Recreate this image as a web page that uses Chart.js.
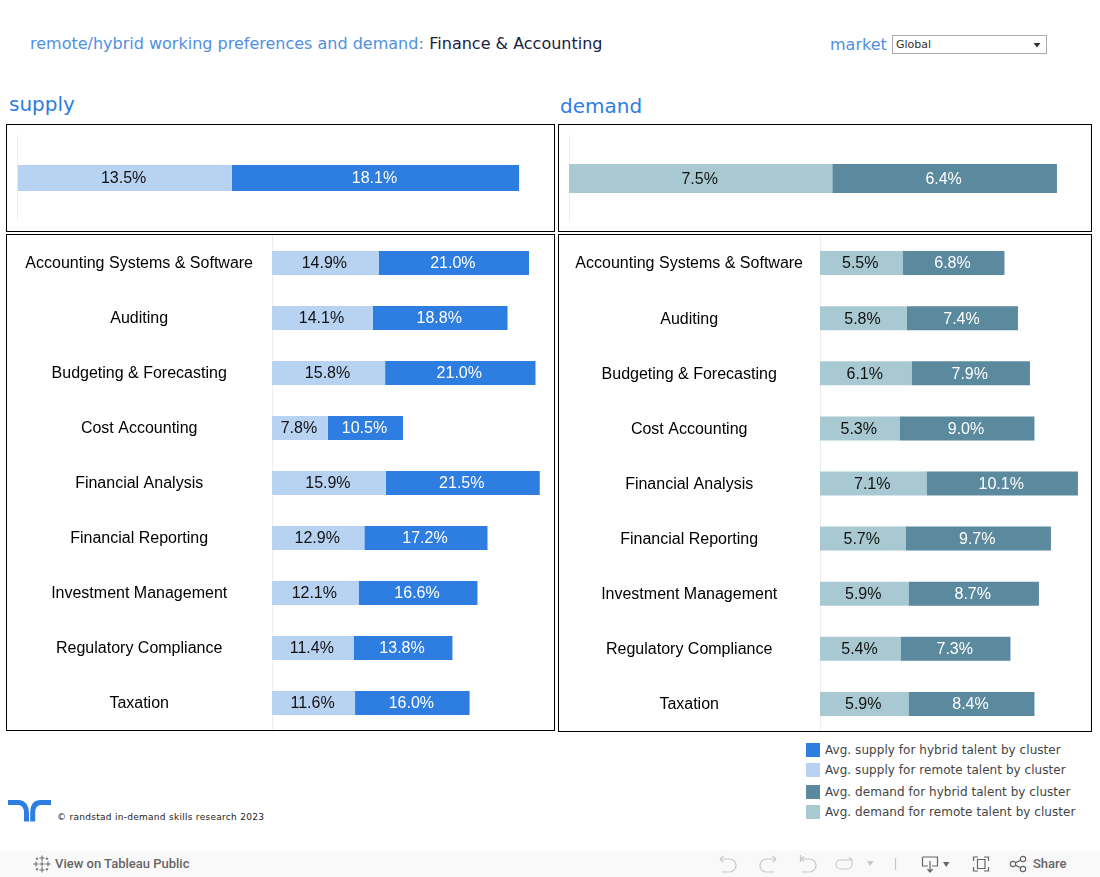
<!DOCTYPE html>
<html><head><meta charset="utf-8">
<script src="https://cdn.jsdelivr.net/npm/chart.js@4"></script>
<style>
html,body{margin:0;padding:0;background:#fff;width:1100px;height:877px;overflow:hidden;font-family:"DejaVu Sans",sans-serif}
.a{position:absolute;white-space:nowrap}
canvas{position:absolute}
.frame{position:absolute;border:1px solid #000;box-sizing:border-box}
.sw{position:absolute;width:14px;height:14px}
.lg{position:absolute;left:825px;font-size:12px;line-height:14px;letter-spacing:.05px;color:#444;white-space:nowrap}
</style></head><body>
<div class="a" style="left:30px;top:34px;font-size:16px;line-height:19px;color:#5090e0">remote/hybrid working preferences and demand:<span style="color:#1b2240;margin-left:5.500px">Finance &amp; Accounting</span></div>
<div class="a" style="left:830px;top:35px;font-size:16px;line-height:19px;color:#5090e0">market</div>
<div class="a" style="left:892px;top:35px;width:155px;height:19px;box-sizing:border-box;border:1px solid #aaa;font-size:11px;line-height:17px;padding-left:3px;color:#333">Global
<svg style="position:absolute;left:140px;top:7px" width="9" height="6"><path d="M0.500 0H7.500L4 4.500Z" fill="#333"/></svg></div>
<div class="a" style="left:9px;top:92px;font-size:20px;line-height:24px;color:#2e7de1">supply</div>
<div class="a" style="left:560px;top:94px;font-size:20px;line-height:24px;color:#2e7de1">demand</div>

<canvas id="c1" style="left:7px;top:135px"></canvas>
<canvas id="c2" style="left:7px;top:235px"></canvas>
<canvas id="c3" style="left:559px;top:135px"></canvas>
<canvas id="c4" style="left:559px;top:235px"></canvas>

<div class="frame" style="left:6px;top:124px;width:549px;height:108px"></div>
<div class="frame" style="left:6px;top:234px;width:549px;height:497px"></div>
<div class="frame" style="left:558px;top:124px;width:534px;height:108px"></div>
<div class="frame" style="left:558px;top:234px;width:534px;height:498px"></div>

<div class="sw" style="left:806px;top:743px;background:#2e7de1"></div><div class="lg" style="top:743px" id="l0"></div>
<div class="sw" style="left:806px;top:763px;background:#b8d2f1"></div><div class="lg" style="top:763px" id="l1"></div>
<div class="sw" style="left:806px;top:785px;background:#5b8a9f"></div><div class="lg" style="top:785px" id="l2"></div>
<div class="sw" style="left:806px;top:805px;background:#a8c9d2"></div><div class="lg" style="top:805px" id="l3"></div>

<svg class="a" style="left:8px;top:800px" width="44" height="22"><path d="M0 2.500H10C16 2.500 18.500 7 18.500 13V21.500M43 2.500H33C27 2.500 24.700 7 24.700 13V21.500" fill="none" stroke="#2e7de1" stroke-width="5"/></svg>
<div class="a" style="left:57px;top:811px;font-size:9px;line-height:12px;letter-spacing:.28px;color:#222">© randstad in-demand skills research 2023</div>

<div class="a" style="left:0;top:850px;width:1100px;height:27px;background:#f9f9f9"></div>
<svg class="a" style="left:33px;top:855px" width="18" height="18" stroke="#666" fill="none" stroke-width="1"><path d="M9 0.500V6M6.500 3H11.500M9 12V17.500M6.500 15H11.500M3 6.500V11.500M0.500 9H5.500M15 6.500V11.500M12.500 9H17.500M9 6.500V11.500M6.500 9H11.500M4 2.500V5M2.800 3.700H5.200M14 2.500V5M12.800 3.700H15.200M4 13V15.500M2.800 14.300H5.200M14 13V15.500M12.800 14.300H15.200"/></svg>
<div class="a" style="left:55px;top:855px;font:500 13px/17px Roboto,sans-serif;color:#666">View on Tableau Public</div>
<svg class="a" style="left:715px;top:850px" width="240" height="27" fill="none" stroke="#c8c8c8" stroke-width="1.2">
<path d="M5 9H14.500A6.500 6.500 0 0 1 14.500 22H7M5 9L8.500 6M5 9L8.500 12"/>
<path d="M61 9H51.500A6.500 6.500 0 0 0 51.500 22H59M61 9L57.500 6M61 9L57.500 12"/>
<path d="M85.500 5V12M86 9H94.500A6.500 6.500 0 0 1 94.500 22H87M86 9L89 6.500M86 9L89 11.500"/>
<path d="M125.500 10H137V14.500A4.500 4.500 0 0 1 132.500 19H125.500A4.500 4.500 0 0 1 125.500 10M137 10L134 7.500"/>
<path d="M152 11H158.500L155.200 16Z" fill="#c8c8c8" stroke="none"/>
<path d="M180.500 8V20"/>
</svg>
<svg class="a" style="left:920px;top:850px" width="112" height="27" fill="none" stroke="#666" stroke-width="1.200">
<path d="M2.500 7H17.500V16H12M8 16H2.500V7M10 11V21M7.500 19L10 22L12.500 19"/>
<path d="M23 12H29.500L26.200 17Z" fill="#666" stroke="none"/>
<path d="M53.500 11V7H58M64 7H68.500V11M53.500 17V21H58M64 21H68.500V17M57.500 9.500H65V18.500H57.500Z"/>
<circle cx="93" cy="14" r="2.700"/><circle cx="103" cy="9" r="2.700"/><circle cx="103" cy="19" r="2.700"/><path d="M95.400 12.800L100.600 10.200M95.400 15.200L100.600 17.800"/>
</svg>
<div class="a" style="left:1033px;top:855px;font:500 13px/17px Roboto,sans-serif;color:#666">Share</div>

<script>
const categories = ["Accounting Systems & Software","Auditing","Budgeting & Forecasting","Cost Accounting","Financial Analysis","Financial Reporting","Investment Management","Regulatory Compliance","Taxation"];
const supplyRemote = [14.9,14.1,15.8,7.8,15.9,12.9,12.1,11.4,11.6];
const supplyHybrid = [21.0,18.8,21.0,10.5,21.5,17.2,16.6,13.8,16.0];
const demandRemote = [5.5,5.8,6.1,5.3,7.1,5.7,5.9,5.4,5.9];
const demandHybrid = [6.8,7.4,7.9,9.0,10.1,9.7,8.7,7.3,8.4];
const supplyTotalRemote = [13.5];
const supplyTotalHybrid = [18.1];
const demandTotalRemote = [7.5];
const demandTotalHybrid = [6.4];
const legendNames = ["Avg. supply for hybrid talent by cluster","Avg. supply for remote talent by cluster","Avg. demand for hybrid talent by cluster","Avg. demand for remote talent by cluster"];
const colSupplyHybrid="#2e7de1", colSupplyRemote="#b8d2f1", colDemandHybrid="#5b8a9f", colDemandRemote="#a8c9d2";
legendNames.forEach((t,i)=>document.getElementById("l"+i).textContent=t);

const labelFont='16px "Liberation Sans",Arial,sans-serif';
const barLabels={id:"barLabels",afterDatasetsDraw(chart){
  const c=chart.ctx;c.save();c.font=labelFont;c.textAlign="center";c.textBaseline="middle";
  chart.data.datasets.forEach((ds,i)=>{
    chart.getDatasetMeta(i).data.forEach((bar,j)=>{
      const p=bar.getCenterPoint();
      c.fillStyle=ds.labelColor;
      c.fillText(ds.data[j].toFixed(1)+"%",p.x-1,p.y+1);
    });
  });
  c.restore();
}};

function nudgeTickLabels(s){
  if(s._nudged) return;
  s._nudged=true;
  const orig=s._computeLabelItems;
  s._computeLabelItems=function(area){
    const items=orig.call(this,area);
    items.forEach(it=>{it.options.translation[1]+=1;});
    return items;
  };
}

function make(id,w,h,labels,remote,hybrid,colR,colH,nameR,nameH,axisW,xMax,share,pad,vPad){
  const cv=document.getElementById(id);cv.width=w;cv.height=h;cv.style.width=w+"px";cv.style.height=h+"px";
  const bar={categoryPercentage:1,barPercentage:share};
  new Chart(cv,{type:"bar",plugins:[barLabels],
    data:{labels:labels,datasets:[
      {label:nameR,data:remote,backgroundColor:colR,labelColor:"#111",...bar},
      {label:nameH,data:hybrid,backgroundColor:colH,labelColor:"#fff",...bar}]},
    options:{indexAxis:"y",responsive:false,animation:false,devicePixelRatio:1,
      layout:{padding:{top:vPad,bottom:vPad,left:0,right:0}},
      plugins:{legend:{display:false},tooltip:{enabled:false}},
      scales:{
        x:{stacked:true,display:false,min:0,max:xMax},
        y:{stacked:true,afterFit(s){s.width=axisW;s.paddingTop=0;s.paddingBottom=0;nudgeTickLabels(s);},
           grid:{display:false,drawTicks:false},border:{display:true,color:"#eeeeee",width:1},
           ticks:{display:labels.length>1,crossAlign:"center",padding:pad,autoSkip:false,color:"#000",font:{family:'"Liberation Sans",Arial,sans-serif',size:16}}}
      }}});
}
make("c1",547,86,["Total"],supplyTotalRemote,supplyTotalHybrid,colSupplyRemote,colSupplyHybrid,legendNames[1],legendNames[0],10.5,33.8,0.3023,0,0);
make("c2",547,496,categories,supplyRemote,supplyHybrid,colSupplyRemote,colSupplyHybrid,legendNames[1],legendNames[0],265,39.39,0.4364,19,0.5);
make("c3",532,87,["Total"],demandTotalRemote,demandTotalHybrid,colDemandRemote,colDemandHybrid,legendNames[3],legendNames[2],10,14.87,0.3333,0,0);
make("c4",532,497,categories,demandRemote,demandHybrid,colDemandRemote,colDemandHybrid,legendNames[3],legendNames[2],261,18.07,0.4354,17,0.5);
</script>
</body></html>
